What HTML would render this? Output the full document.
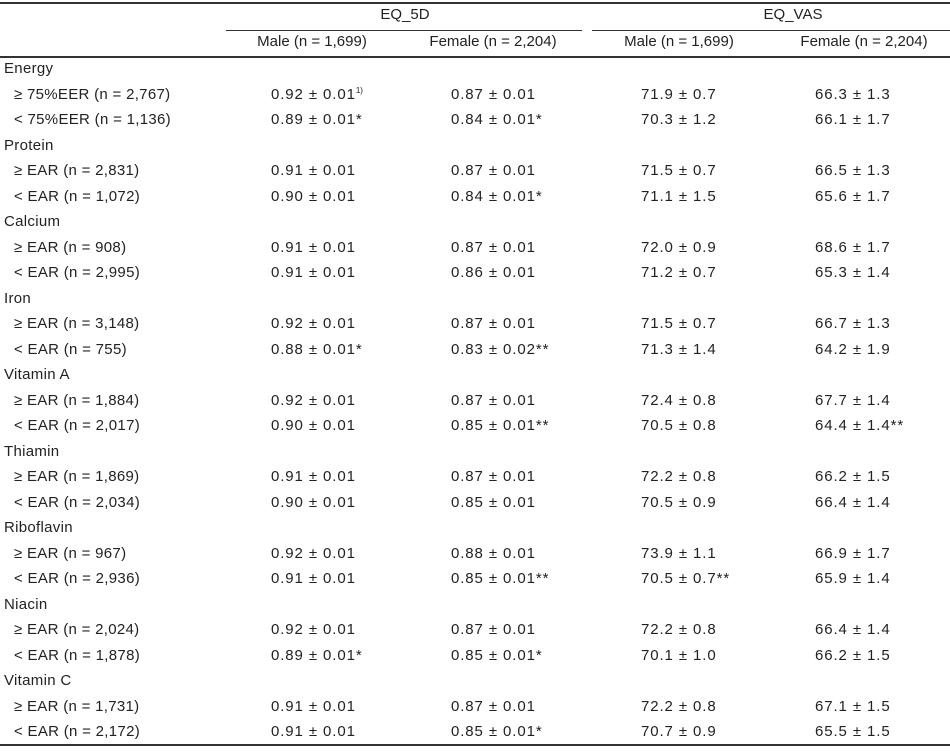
<!DOCTYPE html>
<html><head><meta charset="utf-8">
<style>
body{margin:0;background:#fff;}
#wrap{position:relative;width:950px;height:751px;font-family:"Liberation Sans",sans-serif;font-size:15px;color:#222;overflow:hidden;}
.t{position:absolute;white-space:nowrap;line-height:16px;}
.v{letter-spacing:0.9px;}
.l{position:absolute;background:#333;}
sup{font-size:8px;line-height:0;vertical-align:6px;letter-spacing:0;}
</style></head><body>
<div id="wrap">
<div class="l" style="left:0;top:2px;width:950px;height:2px"></div>
<div class="l" style="left:226px;top:30px;width:356px;height:1px"></div>
<div class="l" style="left:592px;top:30px;width:358px;height:1px"></div>
<div class="l" style="left:0;top:56px;width:950px;height:2px"></div>
<div class="l" style="left:0;top:744px;width:950px;height:2px"></div>
<div class="t" style="left:405px;top:7px;transform:translateX(-50%)">EQ_5D</div>
<div class="t" style="left:793px;top:7px;transform:translateX(-50%)">EQ_VAS</div>
<div class="t" style="left:312px;top:34px;transform:translateX(-50%)">Male (n = 1,699)</div>
<div class="t" style="left:493px;top:34px;transform:translateX(-50%)">Female (n = 2,204)</div>
<div class="t" style="left:679px;top:34px;transform:translateX(-50%)">Male (n = 1,699)</div>
<div class="t" style="left:864px;top:34px;transform:translateX(-50%)">Female (n = 2,204)</div>
</div>
<script>
const rows=[
["Energy"],
["≥ 75%EER (n = 2,767)","0.92 ± 0.01<sup>1)</sup>","0.87 ± 0.01","71.9 ± 0.7","66.3 ± 1.3"],
["< 75%EER (n = 1,136)","0.89 ± 0.01*","0.84 ± 0.01*","70.3 ± 1.2","66.1 ± 1.7"],
["Protein"],
["≥ EAR (n = 2,831)","0.91 ± 0.01","0.87 ± 0.01","71.5 ± 0.7","66.5 ± 1.3"],
["< EAR (n = 1,072)","0.90 ± 0.01","0.84 ± 0.01*","71.1 ± 1.5","65.6 ± 1.7"],
["Calcium"],
["≥ EAR (n = 908)","0.91 ± 0.01","0.87 ± 0.01","72.0 ± 0.9","68.6 ± 1.7"],
["< EAR (n = 2,995)","0.91 ± 0.01","0.86 ± 0.01","71.2 ± 0.7","65.3 ± 1.4"],
["Iron"],
["≥ EAR (n = 3,148)","0.92 ± 0.01","0.87 ± 0.01","71.5 ± 0.7","66.7 ± 1.3"],
["< EAR (n = 755)","0.88 ± 0.01*","0.83 ± 0.02**","71.3 ± 1.4","64.2 ± 1.9"],
["Vitamin A"],
["≥ EAR (n = 1,884)","0.92 ± 0.01","0.87 ± 0.01","72.4 ± 0.8","67.7 ± 1.4"],
["< EAR (n = 2,017)","0.90 ± 0.01","0.85 ± 0.01**","70.5 ± 0.8","64.4 ± 1.4**"],
["Thiamin"],
["≥ EAR (n = 1,869)","0.91 ± 0.01","0.87 ± 0.01","72.2 ± 0.8","66.2 ± 1.5"],
["< EAR (n = 2,034)","0.90 ± 0.01","0.85 ± 0.01","70.5 ± 0.9","66.4 ± 1.4"],
["Riboflavin"],
["≥ EAR (n = 967)","0.92 ± 0.01","0.88 ± 0.01","73.9 ± 1.1","66.9 ± 1.7"],
["< EAR (n = 2,936)","0.91 ± 0.01","0.85 ± 0.01**","70.5 ± 0.7**","65.9 ± 1.4"],
["Niacin"],
["≥ EAR (n = 2,024)","0.92 ± 0.01","0.87 ± 0.01","72.2 ± 0.8","66.4 ± 1.4"],
["< EAR (n = 1,878)","0.89 ± 0.01*","0.85 ± 0.01*","70.1 ± 1.0","66.2 ± 1.5"],
["Vitamin C"],
["≥ EAR (n = 1,731)","0.91 ± 0.01","0.87 ± 0.01","72.2 ± 0.8","67.1 ± 1.5"],
["< EAR (n = 2,172)","0.91 ± 0.01","0.85 ± 0.01*","70.7 ± 0.9","65.5 ± 1.5"]
];
const colX=[271,451,641,815];
const colNames=['eq5d-male','eq5d-female','eqvas-male','eqvas-female'];
const wrap=document.getElementById('wrap');
rows.forEach((r,i)=>{
  const y=61+i*25.5;
  const lab=document.createElement('div');
  lab.className='t';
  
  
  lab.style.left=(r.length===1?4:14)+'px';
  lab.style.top=y+'px';
  lab.style.letterSpacing='0.3px';
  lab.textContent=r[0];
  wrap.appendChild(lab);
  for(let c=1;c<r.length;c++){
    const d=document.createElement('div');
    d.className='t v';
    
    
    d.style.left=colX[c-1]+'px';
    d.style.top=y+'px';
    d.innerHTML=r[c];
    wrap.appendChild(d);
  }
});
</script>
</body></html>
